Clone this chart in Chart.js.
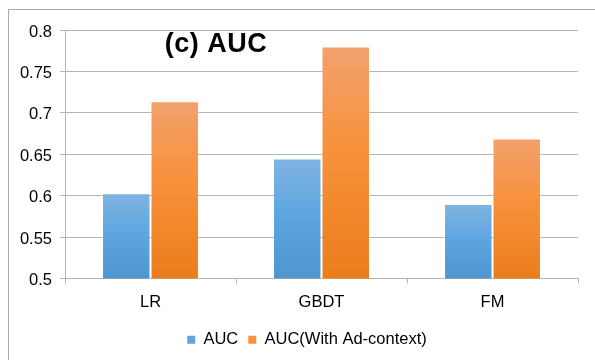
<!DOCTYPE html>
<html>
<head>
<meta charset="utf-8">
<script src="https://cdn.jsdelivr.net/npm/chart.js@4"></script>
<style>
  html, body { margin: 0; padding: 0; background: #fff; }
  #wrap { position: relative; width: 595px; height: 360px; }
  #frame {
    position: absolute; left: 8px; top: 9px; right: 0; bottom: 0;
    border-left: 1px solid #ababab; border-top: 1px solid #ababab;
  }
  canvas { position: absolute; left: 0; top: 0; }
</style>
</head>
<body>
<div id="wrap">
  <div id="frame"></div>
  <canvas id="aucChart" width="595" height="360"></canvas>
</div>
<script>
"use strict";

const CATEGORIES   = ["LR", "GBDT", "FM"];
const AUC_BASE     = [0.603, 0.645, 0.590];
const AUC_CONTEXT  = [0.714, 0.780, 0.669];
const Y_TICKS      = [0.5, 0.55, 0.6, 0.65, 0.7, 0.75, 0.8];

const FONT = "'Liberation Sans', Arial, sans-serif";
const GRID = "#b5b5b5";

const BLUE_STOPS   = ["#80b4e0", "#5fa6e1", "#4e96cf"];
const ORANGE_STOPS = ["#f2a16d", "#f7913b", "#eb7d1b"];

// vertical gradient per bar, from its top down to the axis
function barGradient(stops) {
  return (ctx) => {
    const chart = ctx.chart;
    const area = chart.chartArea;
    if (!area || ctx.raw == null) return stops[1];
    const top = chart.scales.y.getPixelForValue(ctx.raw);
    const g = chart.ctx.createLinearGradient(0, top, 0, area.bottom);
    g.addColorStop(0, stops[0]);
    g.addColorStop(0.45, stops[1]);
    g.addColorStop(1, stops[2]);
    return g;
  };
}

const titleInside = {
  id: "titleInside",
  afterDraw(chart) {
    const { ctx, chartArea } = chart;
    ctx.save();
    ctx.font = "bold 27px " + FONT;
    ctx.letterSpacing = "0.5px";
    ctx.fillStyle = "#000";
    ctx.textAlign = "center";
    ctx.textBaseline = "alphabetic";
    ctx.fillText("(c) AUC", chartArea.left + 151, chartArea.top + 22);
    ctx.restore();
  },
};

// legend in the reference sits a bit right of the canvas centre
const legendShift = {
  id: "legendShift",
  afterLayout(chart) {
    chart.legend.left += 18;
    chart.legend.right += 18;
  },
};

new Chart(document.getElementById("aucChart"), {
  type: "bar",
  data: {
    labels: CATEGORIES,
    datasets: [
      {
        label: "AUC",
        data: AUC_BASE,
        backgroundColor: barGradient(BLUE_STOPS),
        borderColor: "rgba(255,255,255,0.3)",
        borderWidth: 1,
        categoryPercentage: 0.567,
        barPercentage: 1.0,
      },
      {
        label: "AUC(With Ad-context)",
        data: AUC_CONTEXT,
        backgroundColor: barGradient(ORANGE_STOPS),
        borderColor: "rgba(255,255,255,0.3)",
        borderWidth: 1,
        categoryPercentage: 0.567,
        barPercentage: 1.0,
      },
    ],
  },
  options: {
    responsive: false,
    animation: false,
    devicePixelRatio: 1,
    layout: { padding: { left: 0, right: 17, top: 30, bottom: 2 } },
    plugins: {
      title: { display: false },
      tooltip: { enabled: false },
      legend: {
        position: "bottom",
        labels: {
          color: "#000",
          font: { family: FONT, size: 16.5 },
          boxWidth: 8,
          boxHeight: 8,
          padding: 10,
          generateLabels: (chart) => chart.data.datasets.map((ds, i) => ({
            text: ds.label,
            fillStyle: i === 0 ? BLUE_STOPS[1] : ORANGE_STOPS[1],
            strokeStyle: "transparent",
            lineWidth: 0,
            datasetIndex: i,
          })),
        },
      },
    },
    scales: {
      x: {
        afterFit: (scale) => { scale.height = 43; },
        grid: {
          offset: true,
          drawOnChartArea: false,
          drawTicks: true,
          tickLength: 5,
          color: GRID,
        },
        border: { display: true, color: GRID },
        ticks: {
          color: "#000",
          font: { family: FONT, size: 16.5 },
          padding: 9,
        },
      },
      y: {
        min: 0.5,
        max: 0.8,
        afterFit: (scale) => { scale.width = 65; },
        afterBuildTicks: (scale) => { scale.ticks = Y_TICKS.map((v) => ({ value: v })); },
        grid: {
          color: GRID,
          tickLength: 5,
        },
        border: { display: true, color: GRID },
        ticks: {
          color: "#000",
          font: { family: FONT, size: 16.5 },
          padding: 8,
          labelOffset: 2,
          callback: (v) => String(Number(v.toFixed(2))),
        },
      },
    },
  },
  plugins: [titleInside, legendShift],
});
</script>
</body>
</html>
